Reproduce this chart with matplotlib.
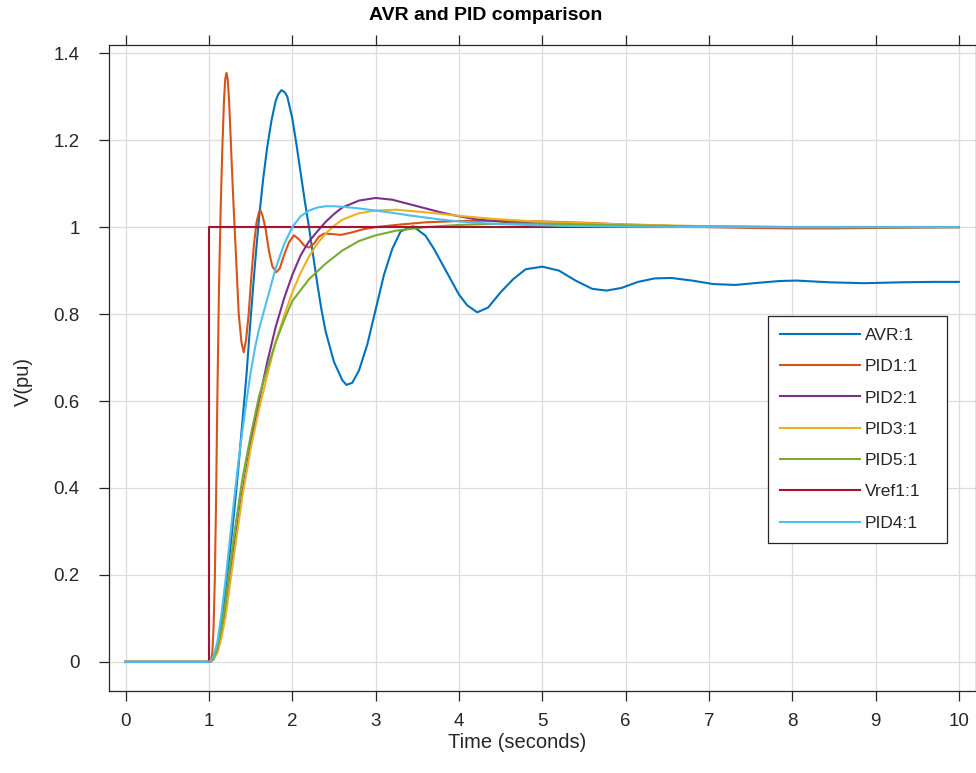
import matplotlib
matplotlib.use("Agg")
import matplotlib.pyplot as plt

# ---------------- data ----------------
avr_t = [0, 1.0, 1.05, 1.1, 1.15, 1.2, 1.25, 1.3, 1.35, 1.4, 1.45, 1.5, 1.55, 1.6, 1.65, 1.7,
         1.75, 1.8, 1.83, 1.87, 1.91, 1.94, 2.0, 2.05, 2.1, 2.15, 2.2, 2.25, 2.3, 2.35, 2.4, 2.5,
         2.6, 2.65, 2.72, 2.8, 2.9, 3.0, 3.1, 3.2, 3.3, 3.45, 3.6, 3.7, 3.8, 3.9, 4.0, 4.1, 4.22,
         4.35, 4.5, 4.65, 4.8, 5.0, 5.2, 5.4, 5.6, 5.77, 5.95, 6.15, 6.35, 6.55, 6.8, 7.05, 7.32,
         7.6, 7.85, 8.05, 8.45, 8.86, 9.3, 9.7, 10.0]
avr_v = [0, 0, 0.005, 0.03, 0.09, 0.17, 0.25, 0.34, 0.44, 0.55, 0.66, 0.79, 0.91, 1.02, 1.11, 1.185,
         1.245, 1.29, 1.305, 1.315, 1.31, 1.30, 1.25, 1.19, 1.125, 1.06, 1.0, 0.935, 0.87, 0.81, 0.76, 0.69,
         0.648, 0.637, 0.642, 0.67, 0.73, 0.81, 0.89, 0.95, 0.99, 1.002, 0.98, 0.95, 0.915, 0.88, 0.845, 0.82, 0.804,
         0.815, 0.85, 0.88, 0.903, 0.909, 0.90, 0.877, 0.858, 0.854, 0.86, 0.874, 0.882, 0.883, 0.877, 0.869, 0.867,
         0.872, 0.876, 0.877, 0.873, 0.871, 0.873, 0.874, 0.874]

pid1_t = [0, 1.0, 1.02, 1.04, 1.055, 1.07, 1.085, 1.10, 1.12, 1.14, 1.16, 1.18, 1.195, 1.21, 1.225,
          1.24, 1.255, 1.27, 1.29, 1.31, 1.33, 1.357, 1.39, 1.417, 1.445, 1.476, 1.51, 1.54, 1.57,
          1.60, 1.62, 1.645, 1.68, 1.72, 1.76, 1.806, 1.85, 1.9, 1.96, 2.02, 2.08, 2.14, 2.2, 2.26,
          2.32, 2.38, 2.48, 2.58, 2.7, 2.85, 3.0, 3.3, 3.6, 4.0, 4.5, 5.0, 5.5, 6.0, 6.5, 7.0, 7.5,
          8.0, 8.5, 9.0, 9.5, 10.0]
pid1_v = [0, 0, 0.0, 0.02, 0.08, 0.19, 0.37, 0.60, 0.86, 1.04, 1.18, 1.29, 1.34, 1.355, 1.34,
          1.295, 1.23, 1.16, 1.07, 0.99, 0.91, 0.80, 0.735, 0.712, 0.74, 0.80, 0.89, 0.96, 1.01,
          1.035, 1.038, 1.025, 0.995, 0.945, 0.91, 0.896, 0.905, 0.935, 0.965, 0.981, 0.972, 0.958, 0.953, 0.962,
          0.978, 0.985, 0.984, 0.982, 0.987, 0.995, 1.0, 1.006, 1.011, 1.014, 1.015, 1.013, 1.01, 1.006, 1.003, 1.0, 0.998,
          0.997, 0.997, 0.998, 0.999, 1.0]

pid2_t = [0, 1.0, 1.05, 1.1, 1.15, 1.2, 1.3, 1.4, 1.5, 1.6, 1.7, 1.8, 1.9, 2.0, 2.1, 2.2, 2.3,
          2.4, 2.5, 2.6, 2.8, 3.0, 3.2, 3.4, 3.6, 3.8, 4.0, 4.2, 4.6, 5.0, 5.5, 6.0, 7.0, 8.0, 10.0]
pid2_v = [0, 0, 0.005, 0.025, 0.065, 0.12, 0.26, 0.39, 0.50, 0.60, 0.69, 0.77, 0.835, 0.89, 0.935,
          0.967, 0.99, 1.012, 1.03, 1.045, 1.061, 1.067, 1.063, 1.053, 1.043, 1.033, 1.025, 1.018, 1.011,
          1.008, 1.006, 1.004, 1.001, 1.0, 1.0]

pid3_t = [0, 1.0, 1.05, 1.1, 1.15, 1.2, 1.3, 1.4, 1.5, 1.6, 1.7, 1.8, 1.9, 2.0, 2.1, 2.2, 2.3,
          2.4, 2.5, 2.6, 2.8, 3.0, 3.25, 3.6, 4.0, 4.4, 5.0, 5.5, 6.0, 7.0, 8.0, 10.0]
pid3_v = [0, 0, 0.004, 0.02, 0.055, 0.105, 0.245, 0.38, 0.49, 0.58, 0.66, 0.735, 0.795, 0.85, 0.895,
          0.932, 0.962, 0.985, 1.003, 1.017, 1.032, 1.038, 1.040, 1.034, 1.026, 1.019, 1.012, 1.009, 1.006,
          1.002, 1.0, 1.0]

pid5_t = [0, 1.0, 1.05, 1.1, 1.15, 1.2, 1.3, 1.4, 1.5, 1.6, 1.7, 1.8, 1.9, 2.0, 2.2, 2.4, 2.6,
          2.8, 3.0, 3.25, 3.6, 4.0, 4.5, 5.0, 6.0, 7.0, 8.0, 10.0]
pid5_v = [0, 0, 0.006, 0.03, 0.075, 0.14, 0.29, 0.42, 0.52, 0.61, 0.675, 0.735, 0.785, 0.83, 0.88,
          0.916, 0.946, 0.968, 0.981, 0.992, 1.0, 1.005, 1.008, 1.008, 1.004, 1.001, 1.0, 1.0]

vref_t = [0, 1.0, 1.0, 10.0]
vref_v = [0, 0, 1.0, 1.0]

pid4_t = [0, 1.0, 1.05, 1.1, 1.15, 1.2, 1.25, 1.3, 1.35, 1.4, 1.45, 1.5, 1.55, 1.6, 1.65, 1.7,
          1.8, 1.9, 2.0, 2.1, 2.2, 2.3, 2.4, 2.5, 2.65, 2.8, 3.0, 3.2, 3.4, 3.6, 3.8, 4.0, 4.2,
          4.5, 4.8, 5.2, 5.6, 6.0, 7.0, 10.0]
pid4_v = [0, 0, 0.01, 0.045, 0.11, 0.19, 0.28, 0.37, 0.455, 0.53, 0.60, 0.665, 0.72, 0.765, 0.80,
          0.835, 0.905, 0.96, 1.0, 1.025, 1.038, 1.045, 1.048, 1.048, 1.046, 1.043, 1.038, 1.033, 1.027,
          1.022, 1.017, 1.013, 1.01, 1.007, 1.005, 1.003, 1.002, 1.001, 1.0, 1.0]

labels = ["AVR:1", "PID1:1", "PID2:1", "PID3:1", "PID5:1", "Vref1:1", "PID4:1"]
colors = ["#0072BD", "#D95319", "#7E2F8E", "#EDB120", "#77AC30", "#A2142F", "#4DBEEE"]
series = [(avr_t, avr_v), (pid1_t, pid1_v), (pid2_t, pid2_v), (pid3_t, pid3_v),
          (pid5_t, pid5_v), (vref_t, vref_v), (pid4_t, pid4_v)]

x_ticks = list(range(0, 11))
y_ticks = [0, 0.2, 0.4, 0.6, 0.8, 1.0, 1.2, 1.4]
y_tick_labels = ["0", "0.2", "0.4", "0.6", "0.8", "1", "1.2", "1.4"]

title = "AVR and PID comparison"
xlabel = "Time (seconds)"
ylabel = "V(pu)"

# ---------------- figure ----------------
plt.rcParams['font.family'] = ['Liberation Sans', 'DejaVu Sans']
W, H = 976, 773
fig = plt.figure(figsize=(W / 100, H / 100), dpi=100)
ax_l, ax_r, ax_t, ax_b = 109, 975.5, 44.5, 691
ax = fig.add_axes([ax_l / W, 1 - ax_b / H, (ax_r - ax_l) / W, (ax_b - ax_t) / H])

for (t, v), lab, c in zip(series, labels, colors):
    ax.plot(t, v, color=c, lw=1.5, label=lab, solid_joinstyle='round')

ax.set_xlim(-0.2, 10.2)
ax.set_ylim(-0.067, 1.42)
ax.set_xticks(x_ticks)
ax.set_xticklabels([str(x) for x in x_ticks])
ax.set_yticks(y_ticks)
ax.set_yticklabels(y_tick_labels)

ax.grid(True, color="#dcdcdc", lw=0.9)
ax.set_axisbelow(True)

dark = "#262626"
for s in ax.spines.values():
    s.set_color(dark)
    s.set_linewidth(0.9)

ax.tick_params(axis='x', direction='out', length=7, width=0.9, color=dark,
               labelcolor=dark, labelsize=13.5, pad=9, top=True, labeltop=False)
ax.tick_params(axis='y', direction='out', length=7, width=0.9, color=dark,
               labelcolor=dark, labelsize=13.5, pad=14, right=False)

fig.text(486 / W, 1 - 15 / H, title, ha='center', va='center',
         fontsize=14, fontweight='bold', color='black')
fig.text(517 / W, 1 - 742 / H, xlabel, ha='center', va='center',
         fontsize=14.5, color=dark)
fig.text(23 / W, 1 - 381 / H, ylabel, ha='center', va='center',
         fontsize=14.5, color=dark, rotation=90)

leg_l, leg_t, leg_r = 768, 316, 947
leg = ax.legend(loc='upper left',
                bbox_to_anchor=(leg_l / W, 1 - leg_t / H, (leg_r - leg_l) / W, 0),
                bbox_transform=fig.transFigure, mode='expand', borderaxespad=0,
                fontsize=12.5, handlelength=4.6, handletextpad=0.3,
                borderpad=0.68, labelspacing=0.93, fancybox=False, framealpha=1,
                edgecolor=dark)
leg.get_frame().set_linewidth(0.9)
for txt in leg.get_texts():
    txt.set_color(dark)

fig.savefig("out.png", dpi=100)
